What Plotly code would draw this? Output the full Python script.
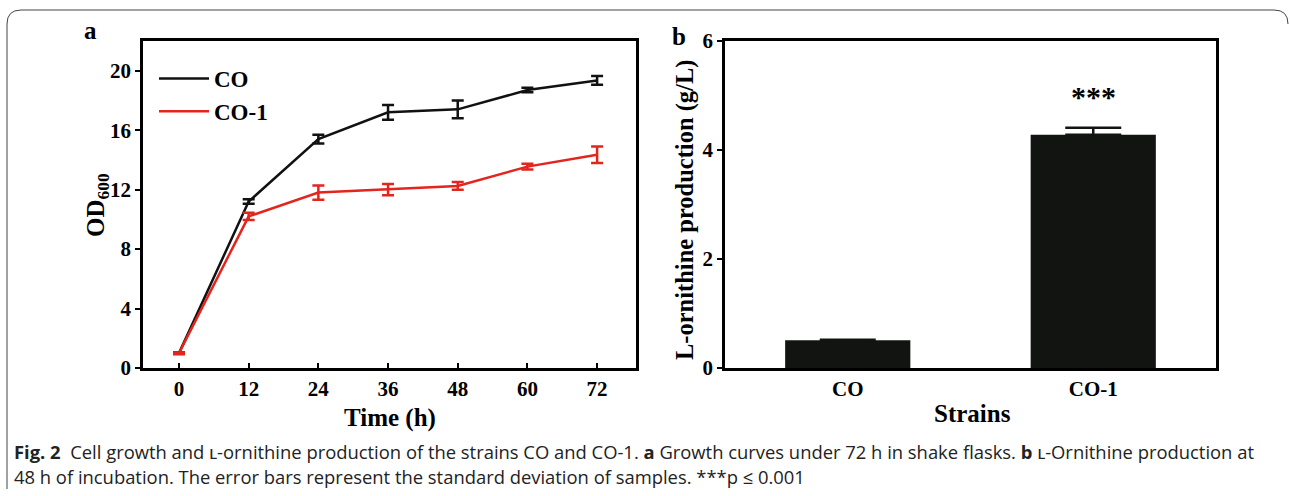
import plotly.graph_objects as go

# ---- data ----
time_h = [0, 12, 24, 36, 48, 60, 72]
od_co = [1.0, 11.2, 15.4, 17.2, 17.4, 18.7, 19.35]
od_co_err = [0.05, 0.15, 0.3, 0.5, 0.6, 0.15, 0.3]
od_co1 = [1.0, 10.2, 11.8, 12.0, 12.25, 13.55, 14.35]
od_co1_err = [0.05, 0.25, 0.48, 0.38, 0.26, 0.2, 0.55]

strains = ["CO", "CO-1"]
orn_prod = [0.51, 4.28]
orn_err = [0.01, 0.13]

x_ticks_a = [0, 12, 24, 36, 48, 60, 72]
y_ticks_a = [0, 4, 8, 12, 16, 20]
y_ticks_b = [0, 2, 4, 6]

W, H = 1290, 496
def px(x): return x / W
def py(y): return 1 - y / H

serif = "Liberation Serif, Times New Roman, serif"
sans = "Open Sans, Noto Sans, sans-serif"
tfont = dict(family=serif, size=21, color="black", weight="bold")
title_font = dict(family=serif, size=25, color="black", weight="bold")

fig = go.Figure()

fig.add_trace(go.Scatter(
    x=time_h, y=od_co, name="CO", mode="lines",
    line=dict(color="#111111", width=2.5),
    error_y=dict(type="data", array=od_co_err, color="#111111", thickness=2.5, width=6),
    xaxis="x", yaxis="y"))
fig.add_trace(go.Scatter(
    x=time_h, y=od_co1, name="CO-1", mode="lines",
    line=dict(color="#e3251e", width=2.5),
    error_y=dict(type="data", array=od_co1_err, color="#e3251e", thickness=2.5, width=6),
    xaxis="x", yaxis="y"))

fig.add_trace(go.Bar(
    x=[0, 1], y=orn_prod, width=0.51, marker=dict(color="#121412", line=dict(width=0)),
    error_y=dict(type="data", array=orn_err, arrayminus=[0, 0], symmetric=False,
                 color="#121412", thickness=2.5, width=28),
    showlegend=False, xaxis="x2", yaxis="y2"))

axis_common = dict(showline=True, linecolor="black", linewidth=2.5, mirror=True,
                   showgrid=False, zeroline=False, automargin=False,
                   tickfont=tfont,
                   ticks="outside", ticklen=5, tickwidth=2, tickcolor="black")

fig.update_layout(
    width=W, height=H,
    margin=dict(l=0, r=0, t=0, b=0, autoexpand=False),
    paper_bgcolor="white", plot_bgcolor="white",
    showlegend=True,
    legend=dict(x=px(154), y=py(57), xanchor="left", yanchor="top",
                font=dict(family=serif, size=23, color="black", weight="bold"),
                bgcolor="rgba(0,0,0,0)", tracegroupgap=0, itemwidth=50),
    xaxis=dict(axis_common, domain=[px(143), px(636)], range=[-6.2, 78.7],
               tickvals=x_ticks_a, ticks="inside", anchor="y"),
    yaxis=dict(axis_common, domain=[py(368), py(41)], range=[0, 22],
               tickvals=y_ticks_a, anchor="x"),
    xaxis2=dict(axis_common, domain=[px(725), px(1216)], range=[-0.5, 1.5],
                tickvals=[0, 1], ticktext=strains, ticks="", anchor="y2"),
    yaxis2=dict(axis_common, domain=[py(368), py(41)], range=[0, 6],
                tickvals=y_ticks_b, anchor="x2"),
)

ann = []
def label(text, x, y, font, angle=0, **kw):
    d = dict(text=text, x=px(x), y=py(y), xref="paper", yref="paper",
             showarrow=False, font=font, textangle=angle, xanchor="center", yanchor="middle")
    d.update(kw)
    ann.append(d)

label("a", 90, 30, dict(family=serif, size=25, color="black", weight="bold"))
label("b", 679, 37, dict(family=serif, size=25, color="black", weight="bold"))
label("Time (h)", 390, 418, title_font)
label("Strains", 972, 413, title_font)
label("OD<sub>600</sub>", 97, 205, title_font, angle=-90)
label("L-ornithine production (g/L)", 685, 210, dict(title_font, size=24.5), angle=-90)
ann.append(dict(text="***", x=1, y=4.98, xref="x2", yref="y2", yanchor="middle",
                showarrow=False, font=dict(family=serif, size=30, color="black", weight="bold")))
cap_font = dict(family=sans, size=18.4, color="#222")
label("<b>Fig. 2</b>  Cell growth and ʟ-ornithine production of the strains CO and CO-1. <b>a</b> Growth curves under 72 h in shake flasks. <b>b</b> ʟ-Ornithine production at",
      12, 451, cap_font, xanchor="left")
label("48 h of incubation. The error bars represent the standard deviation of samples. ***p ≤ 0.001",
      12, 476, cap_font, xanchor="left")
fig.update_layout(annotations=ann)

# rounded frame
r = 14
x0, y0, x1, y1 = 7, 10, 1288, 489
path = (f"M {px(x0)},{py(y1)} L {px(x0)},{py(y0 + r)} Q {px(x0)},{py(y0)} {px(x0 + r)},{py(y0)} "
        f"L {px(x1 - r)},{py(y0)} Q {px(x1)},{py(y0)} {px(x1)},{py(y0 + r)}")
fig.add_shape(type="path", path=path, xref="paper", yref="paper",
              line=dict(color="#444", width=1))

fig.write_html("out.html", config={"displayModeBar": False},
               post_script="document.body.style.margin='0';document.body.style.overflow='hidden';")
